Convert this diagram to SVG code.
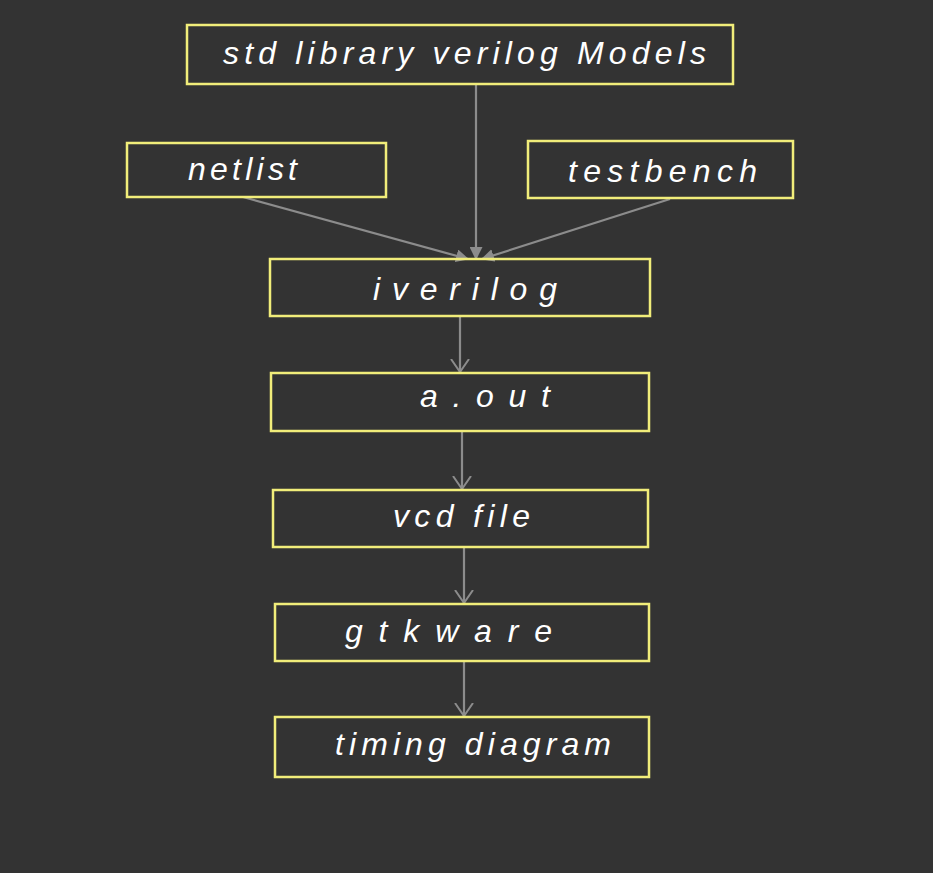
<svg xmlns="http://www.w3.org/2000/svg" width="933" height="873" viewBox="0 0 933 873">
<defs>
<style>
.box{fill:none;stroke:#f1ed7a;stroke-width:2.5}
.lbl{fill:#ffffff;font-family:"Liberation Sans",Arial,sans-serif;font-size:32px;font-style:italic}
.con{stroke:#8c8c8c;stroke-width:2.2;fill:none}
</style>
<marker id="fill" viewBox="0 0 12 12" refX="11" refY="6" markerWidth="13" markerHeight="13" markerUnits="userSpaceOnUse" orient="auto">
<path d="M0,0 L12,6 L0,12 Z" fill="#8c8c8c"/>
</marker>
<marker id="open" viewBox="0 0 14 20" refX="13" refY="10" markerWidth="14" markerHeight="20" markerUnits="userSpaceOnUse" orient="auto">
<path d="M0,1 L13,10 L0,19" fill="none" stroke="#8c8c8c" stroke-width="2"/>
</marker>
</defs>
<rect width="933" height="873" fill="#333333"/>
<g id="connectors">
<line class="con" x1="476" y1="85" x2="476" y2="259" marker-end="url(#fill)"/>
<line class="con" x1="243" y1="197" x2="468" y2="259" marker-end="url(#fill)"/>
<line class="con" x1="670" y1="199" x2="482" y2="259" marker-end="url(#fill)"/>
<line class="con" x1="460" y1="317" x2="460" y2="372" marker-end="url(#open)"/>
<line class="con" x1="462" y1="432" x2="462" y2="489" marker-end="url(#open)"/>
<line class="con" x1="464" y1="548" x2="464" y2="603" marker-end="url(#open)"/>
<line class="con" x1="464" y1="661" x2="464" y2="716" marker-end="url(#open)"/>
</g>
<g id="std">
<rect class="box" x="187" y="25" width="546" height="59"/>
<text class="lbl" x="223" y="64" textLength="483" lengthAdjust="spacing">std library verilog Models</text>
</g>
<g id="netlist">
<rect class="box" x="127" y="143" width="259" height="54"/>
<text class="lbl" x="188" y="180" textLength="109" lengthAdjust="spacing">netlist</text>
</g>
<g id="testbench">
<rect class="box" x="528" y="141" width="265" height="57"/>
<text class="lbl" x="568" y="182" textLength="189" lengthAdjust="spacing">testbench</text>
</g>
<g id="iverilog">
<rect class="box" x="270" y="259" width="380" height="57"/>
<text class="lbl" x="373" y="300" textLength="184" lengthAdjust="spacing">iverilog</text>
</g>
<g id="aout">
<rect class="box" x="271" y="373" width="378" height="58"/>
<text class="lbl" x="420" y="407" textLength="130" lengthAdjust="spacing">a.out</text>
</g>
<g id="vcd">
<rect class="box" x="273" y="490" width="375" height="57"/>
<text class="lbl" x="393" y="527" textLength="137" lengthAdjust="spacing">vcd file</text>
</g>
<g id="gtkware">
<rect class="box" x="275" y="604" width="374" height="57"/>
<text class="lbl" x="345" y="642" textLength="207" lengthAdjust="spacing">gtkware</text>
</g>
<g id="timing">
<rect class="box" x="275" y="717" width="374" height="60"/>
<text class="lbl" x="335" y="755" textLength="276" lengthAdjust="spacing">timing diagram</text>
</g>
</svg>
